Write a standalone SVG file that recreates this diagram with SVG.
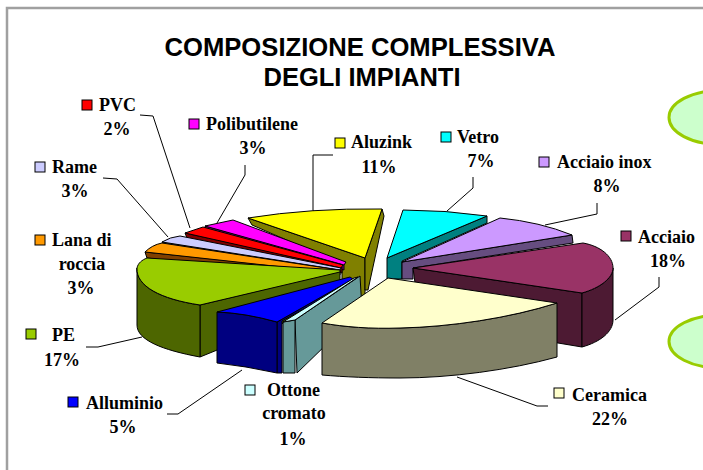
<svg xmlns="http://www.w3.org/2000/svg" width="703" height="470" viewBox="0 0 703 470">
<style>
.t{font-family:"Liberation Serif","Times New Roman",serif;font-weight:bold;font-size:18px;fill:#000}
.ti{font-family:"Liberation Sans",Arial,sans-serif;font-weight:bold;font-size:25px;fill:#000}
.s{stroke:#000;stroke-width:1;stroke-linejoin:round}
.k{stroke:#000;stroke-width:1;fill:none}
.lg{stroke:#000;stroke-width:1}
.m{text-anchor:middle}
</style>
<rect x="0" y="0" width="703" height="470" fill="#fff"/>
<path d="M7,470 V8 H703" fill="none" stroke="#a0a0a0" stroke-width="2.5"/>
<ellipse cx="720" cy="117.5" rx="51" ry="27" fill="#ccffcc" stroke="#99cc00" stroke-width="3"/>
<ellipse cx="720" cy="341.5" rx="51" ry="26.5" fill="#ccffcc" stroke="#99cc00" stroke-width="3"/>
<g id="title">
<text class="ti m" x="360" y="56" textLength="391" lengthAdjust="spacingAndGlyphs">COMPOSIZIONE COMPLESSIVA</text>
<text class="ti m" x="362" y="86" textLength="197" lengthAdjust="spacingAndGlyphs">DEGLI IMPIANTI</text>
</g>
<g id="vetro">
<path class="s" fill="#008080" d="M387,258 L487,216 L487,223 L402,261 L402,279 L387,279 Z"/>
<path class="s" fill="#00ffff" d="M403,210 Q445,210 487,216 L387,258 Z"/>
</g>
<g id="aluzink">
<path class="s" fill="#808000" d="M248,218 L365,258 L365,297 L342,297 L342,264 L252,225 Z"/>
<path class="s" fill="#808000" d="M382,209 L384,216 L368,290 L365,290 L365,258 Z"/>
<path class="s" fill="#ffff00" d="M248,218 Q310,208 382,209 L365,258 Z"/>
</g>
<g id="acciaio-inox">
<path class="s" fill="#664d80" d="M402,262 L572,235 L573,243 L413,268 L413,279 L402,279 Z"/>
<path class="s" fill="#cc99ff" d="M402,262 L500,218 Q540,222 572,235 Z"/>
</g>
<g id="polibutilene">
<path class="s" fill="#800080" d="M205,226 L344,264 L344,270 L207,231 Z"/>
<path class="s" fill="#ff00ff" d="M205,226 L233,220 L346,262 L344,265 Z"/>
</g>
<g id="pvc">
<path class="s" fill="#800000" d="M185,233 L342,267 L342,273 L187,238 Z"/>
<path class="s" fill="#ff0000" d="M185,233 L203,227 L343,265 L341,268 Z"/>
</g>
<g id="rame">
<path class="s" fill="#666680" d="M162,242 L340,270 L340,275 L164,246 Z"/>
<path class="s" fill="#ccccff" d="M162,242 Q170,237 180,236 L341,268 L340,270 Z"/>
</g>
<g id="lana">
<path class="s" fill="#804000" d="M145,252 L338,272 L338,280 L147,258 Z"/>
<path class="s" fill="#ff9900" d="M145,252 Q152,245 162,243 L339,270 L338,273 Z"/>
</g>
<g id="acciaio">
<path class="s" fill="#4d1a33" d="M413,268 L582,293 L582,347 L420,320 Z"/>
<path class="s" fill="#4d1a33" d="M582,293 C600,288 613,278 613,268 L613,320 C613,332 600,342 582,347 Z"/>
<path class="s" fill="#993366" d="M413,268 L583,243 C600,246 613,256 613,268 C613,278 600,288 582,293 Z"/>
</g>
<g id="pe">
<path class="s" fill="#4d6600" d="M200,305 L340,271 L340,300 L200,357 Z"/>
<path class="s" fill="#4d6600" d="M137,268 C136,286 160,299 200,305 L200,357 C162,350 137,340 137,325 Z"/>
<path class="s" fill="#99cc00" d="M147,258 L340,270 L340,272 L200,305 C160,299 136,286 137,268 C138,263 142,260 147,258 Z"/>
</g>
<g id="alluminio">
<path class="s" fill="#000080" d="M277,322 L352,279 L356,280 L282,321 L282,373 L277,373 Z"/>
<path class="s" fill="#000080" d="M217,312 Q245,313 277,322 L277,373 Q245,366 217,363 Z"/>
<path class="s" fill="#0000ff" d="M217,312 L350,277 L353,279 L277,322 Q245,313 217,312 Z"/>
</g>
<g id="ottone">
<path class="s" fill="#669999" d="M295,320 L360,276 L362,310 L297,373 Z"/>
<path class="s" fill="#669999" d="M283,322 L295,320 L295,373 L283,373 Z"/>
<path class="s" fill="#ccffff" d="M283,322 L354,278 L358,277 L295,320 Z"/>
</g>
<g id="ceramica">
<path class="s" fill="#808066" d="M322,323 C345,327 370,329 400,328 C450,327 510,318 557,303 L557,357 C510,370 450,378 400,378 C370,378 345,377 322,375 Z"/>
<path class="s" fill="#ffffcc" d="M388,278 L557,303 C510,318 450,327 400,328 C370,329 345,327 322,323 Z"/>
</g>
<g id="connectors">
<polyline class="k" points="140,115 153,116 190,228"/>
<polyline class="k" points="245,165 245,175 217,223"/>
<polyline class="k" points="103,178 117,179 168,237"/>
<polyline class="k" points="333,155 313,155 313,211"/>
<polyline class="k" points="473,177 473,188 447,211"/>
<polyline class="k" points="597,203 597,214 545,225"/>
<polyline class="k" points="659,277 659,287 615,320"/>
<polyline class="k" points="548,406 537,406 457,377"/>
<polyline class="k" points="167,414 178,414 242,370"/>
<polyline class="k" points="86,347 98,347 142,337"/>
</g>
<g id="label-pvc">
<rect class="lg" x="82" y="100" width="10" height="10" fill="#ff0000"/>
<text class="t" x="99" y="111">PVC</text>
<text class="t m" x="117" y="135">2%</text>
</g>
<g id="label-polibutilene">
<rect class="lg" x="189" y="119" width="10" height="10" fill="#ff00ff"/>
<text class="t" x="206" y="130">Polibutilene</text>
<text class="t m" x="253" y="154">3%</text>
</g>
<g id="label-rame">
<rect class="lg" x="35" y="162" width="10" height="10" fill="#ccccff"/>
<text class="t" x="52" y="173">Rame</text>
<text class="t m" x="75" y="197">3%</text>
</g>
<g id="label-lana">
<rect class="lg" x="35" y="235" width="10" height="10" fill="#ff9900"/>
<text class="t" x="52" y="246">Lana di</text>
<text class="t m" x="82" y="270">roccia</text>
<text class="t m" x="81" y="294">3%</text>
</g>
<g id="label-aluzink">
<rect class="lg" x="335" y="138" width="10" height="10" fill="#ffff00"/>
<text class="t" x="351" y="148">Aluzink</text>
<text class="t m" x="379" y="173">11%</text>
</g>
<g id="label-vetro">
<rect class="lg" x="441" y="132" width="10" height="10" fill="#00ffff"/>
<text class="t" x="457" y="143">Vetro</text>
<text class="t m" x="481" y="167">7%</text>
</g>
<g id="label-acciaio-inox">
<rect class="lg" x="539" y="157" width="10" height="10" fill="#cc99ff"/>
<text class="t" x="557" y="168">Acciaio inox</text>
<text class="t m" x="607" y="192">8%</text>
</g>
<g id="label-acciaio">
<rect class="lg" x="621" y="231" width="10" height="10" fill="#993366"/>
<text class="t" x="638" y="243">Acciaio</text>
<text class="t m" x="668" y="267">18%</text>
</g>
<g id="label-ceramica">
<rect class="lg" x="554" y="388" width="10" height="10" fill="#ffffcc"/>
<text class="t" x="572" y="401">Ceramica</text>
<text class="t m" x="610" y="425">22%</text>
</g>
<g id="label-ottone">
<rect class="lg" x="245" y="385" width="10" height="10" fill="#ccffff"/>
<text class="t" x="267" y="396">Ottone</text>
<text class="t m" x="294" y="419">cromato</text>
<text class="t m" x="293" y="445">1%</text>
</g>
<g id="label-alluminio">
<rect class="lg" x="68" y="397" width="10" height="10" fill="#0000ff"/>
<text class="t" x="86" y="409">Alluminio</text>
<text class="t m" x="123" y="433">5%</text>
</g>
<g id="label-pe">
<rect class="lg" x="26" y="329" width="10" height="10" fill="#99cc00"/>
<text class="t" x="52" y="341">PE</text>
<text class="t m" x="62" y="366">17%</text>
</g>
</svg>
